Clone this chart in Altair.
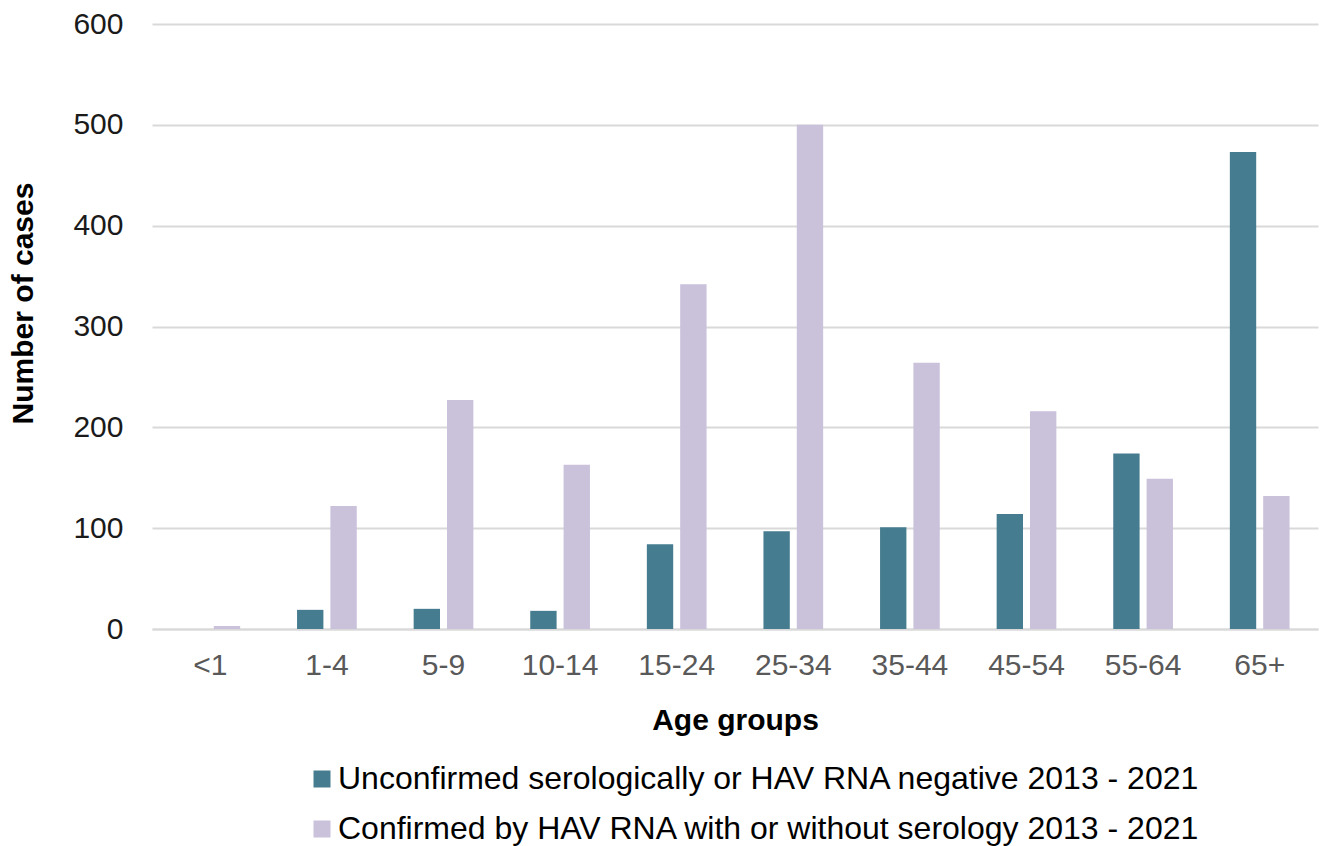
import altair as alt
import pandas as pd

# Age bands on the x axis
age_groups = ["<1", "1-4", "5-9", "10-14", "15-24", "25-34", "35-44", "45-54", "55-64", "65+"]

# Number of cases per age band, 2013 - 2021
unconfirmed = [0, 19, 20, 18, 84, 97, 101, 114, 174, 473]
confirmed = [3, 122, 227, 163, 342, 500, 264, 216, 149, 132]

series_names = [
    "Unconfirmed serologically or HAV RNA negative 2013 - 2021",
    "Confirmed by HAV RNA with or without serology 2013 - 2021",
]
series_colors = ["#467C8F", "#CAC1DB"]

rows = []
for i, g in enumerate(age_groups):
    rows.append({"age": g, "series": series_names[0], "order": 0, "cases": unconfirmed[i]})
    rows.append({"age": g, "series": series_names[1], "order": 1, "cases": confirmed[i]})
df = pd.DataFrame(rows)

FONT = "Liberation Sans"

chart = (
    alt.Chart(df)
    .mark_bar()
    .encode(
        x=alt.X(
            "age:N",
            sort=age_groups,
            scale=alt.Scale(paddingInner=0.488, paddingOuter=0.244),
            axis=alt.Axis(
                title="Age groups",
                labelAngle=0,
                labelFont=FONT,
                labelFontSize=30,
                labelColor="#595959",
                labelPadding=21,
                ticks=False,
                grid=False,
                domain=True,
                domainColor="#D9D9D9",
                domainWidth=2,
                titleFont=FONT,
                titleFontSize=30,
                titleFontWeight="bold",
                titleColor="#000000",
                titleBaseline="alphabetic",
                titleY=100,
            ),
        ),
        xOffset=alt.XOffset(
            "series:N",
            sort=series_names,
            scale=alt.Scale(paddingInner=0.21, paddingOuter=0),
        ),
        y=alt.Y(
            "cases:Q",
            scale=alt.Scale(domain=[0, 600], nice=False),
            axis=alt.Axis(
                title="Number of cases",
                values=[0, 100, 200, 300, 400, 500, 600],
                labelFont=FONT,
                labelFontSize=30,
                labelColor="#1A1A1A",
                labelPadding=29,
                ticks=False,
                domain=False,
                grid=True,
                gridColor="#D9D9D9",
                gridWidth=2,
                titleFont=FONT,
                titleFontSize=30,
                titleFontWeight="bold",
                titleColor="#000000",
                titleX=-129,
                titleY=279,
                titleBaseline="middle",
                titleAlign="center",
            ),
        ),
        color=alt.Color(
            "series:N",
            scale=alt.Scale(domain=series_names, range=series_colors),
            legend=alt.Legend(
                title=None,
                orient="none",
                legendX=154,
                legendY=739,
                direction="vertical",
                symbolType="square",
                symbolSize=289,
                symbolStrokeWidth=0,
                labelFont=FONT,
                labelFontSize=32,
                labelColor="#000000",
                labelLimit=0,
                labelOffset=0,
                rowPadding=18,
            ),
        ),
        order=alt.Order("order:Q"),
    )
    .properties(
        width=1166,
        height=605,
        autosize=alt.AutoSizeParams(type="none"),
        padding={"left": 152, "top": 24, "right": 2, "bottom": 217},
    )
    .configure(background="#FFFFFF")
    .configure_view(strokeWidth=0, stroke="transparent")
)

chart.save("out.html", embed_options={"renderer": "svg", "actions": False})
